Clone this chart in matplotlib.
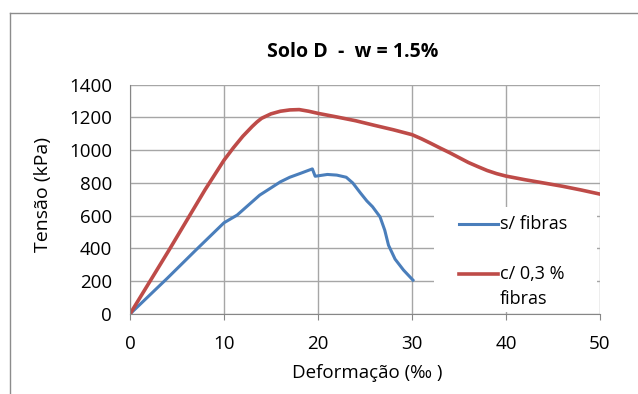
import matplotlib
matplotlib.use("Agg")
import matplotlib.pyplot as plt
from matplotlib.lines import Line2D
from matplotlib.patches import Rectangle

# s/ fibras
def_sem = [0, 2, 4, 7, 10, 11.4, 12.5, 13.8, 15, 16, 17, 18.1, 19.4, 19.7, 21, 22, 23, 23.7,
           24.5, 25.2, 25.8, 26.6, 27.1, 27.5, 28.2, 29.1, 30.1]
ten_sem = [0, 110, 220, 390, 557, 604, 660, 726, 770, 807, 835, 858, 886, 841, 852, 848, 835, 800,
           740, 690, 655, 593, 512, 420, 335, 268, 207]

# c/ 0,3 % fibras
def_com = [0, 4.15, 8, 10, 11, 12, 13, 13.5, 14, 15, 16, 17, 18, 19, 20, 22, 24, 26, 28, 29, 30,
           31, 32, 33, 34, 35, 36, 37, 38, 39, 40, 42, 44, 46, 48, 50]
ten_com = [0, 390, 760, 939, 1015, 1085, 1145, 1172, 1195, 1222, 1238, 1246, 1248, 1238, 1225,
           1203, 1180, 1152, 1125, 1110, 1095, 1070, 1042, 1013, 985, 955, 925, 900, 876, 857,
           842, 820, 800, 780, 757, 732]

x_ticks = [0, 10, 20, 30, 40, 50]
y_ticks = [0, 200, 400, 600, 800, 1000, 1200, 1400]

azul = "#4A7EBB"
verm = "#BE4B48"

plt.rcParams["font.family"] = ["Open Sans", "DejaVu Sans"]

W, H = 638, 394
fig = plt.figure(figsize=(6.38, 3.94), dpi=100)
ax = fig.add_axes([130 / W, 1 - 314 / H, 470 / W, (314 - 84.7) / H])


def px(x, y):
    return x / W, 1 - y / H


ax.plot(def_sem, ten_sem, color=azul, lw=2.2, solid_joinstyle="round")
ax.plot(def_com, ten_com, color=verm, lw=2.6, solid_joinstyle="round")

ax.set_xlim(0, 50)
ax.set_ylim(0, 1400)
ax.set_xticks(x_ticks)
ax.set_yticks(y_ticks)
ax.grid(True, color="#A6A6A6", lw=1.0)
ax.set_axisbelow(True)
for s in ["top", "right"]:
    ax.spines[s].set_visible(False)
for s in ["left", "bottom"]:
    ax.spines[s].set_color("#868686")
ax.tick_params(axis="both", labelsize=13.5, length=4, color="#868686")
ax.tick_params(axis="x", pad=11)
ax.tick_params(axis="y", length=0, pad=13)

fig.text(*px(367, 373), "Deformação (‰ )", ha="center", va="center", fontsize=13.5)
fig.text(*px(43, 195), "Tensão (kPa)", ha="center", va="center", fontsize=14, rotation=90)
fig.text(*px(353, 52), "Solo D  -  w = 1.5%", ha="center", va="center",
         fontsize=14, fontweight="bold")

# legenda
fig.add_artist(Rectangle(px(434, 312), 163 / W, 105 / H, transform=fig.transFigure,
                         facecolor="white", edgecolor="none", zorder=3))
fig.add_artist(Line2D([459 / W, 498 / W], [1 - 224 / H] * 2, transform=fig.transFigure,
                      color=azul, lw=2.2, zorder=4))
fig.add_artist(Line2D([459 / W, 498 / W], [1 - 274 / H] * 2, transform=fig.transFigure,
                      color=verm, lw=2.6, zorder=4))
fig.text(*px(500, 224), "s/ fibras", ha="left", va="center", fontsize=13, zorder=5)
fig.text(*px(500, 274), "c/ 0,3 %", ha="left", va="center", fontsize=13, zorder=5)
fig.text(*px(500, 299), "fibras", ha="left", va="center", fontsize=13, zorder=5)

fig.add_artist(Line2D([10 / W, 10 / W], [0, 1 - 13 / H], transform=fig.transFigure,
                      color="#8C8C8C", lw=1))
fig.add_artist(Line2D([10 / W, 1], [1 - 13 / H, 1 - 13 / H], transform=fig.transFigure,
                      color="#8C8C8C", lw=1))

fig.savefig("out.png", dpi=100)
